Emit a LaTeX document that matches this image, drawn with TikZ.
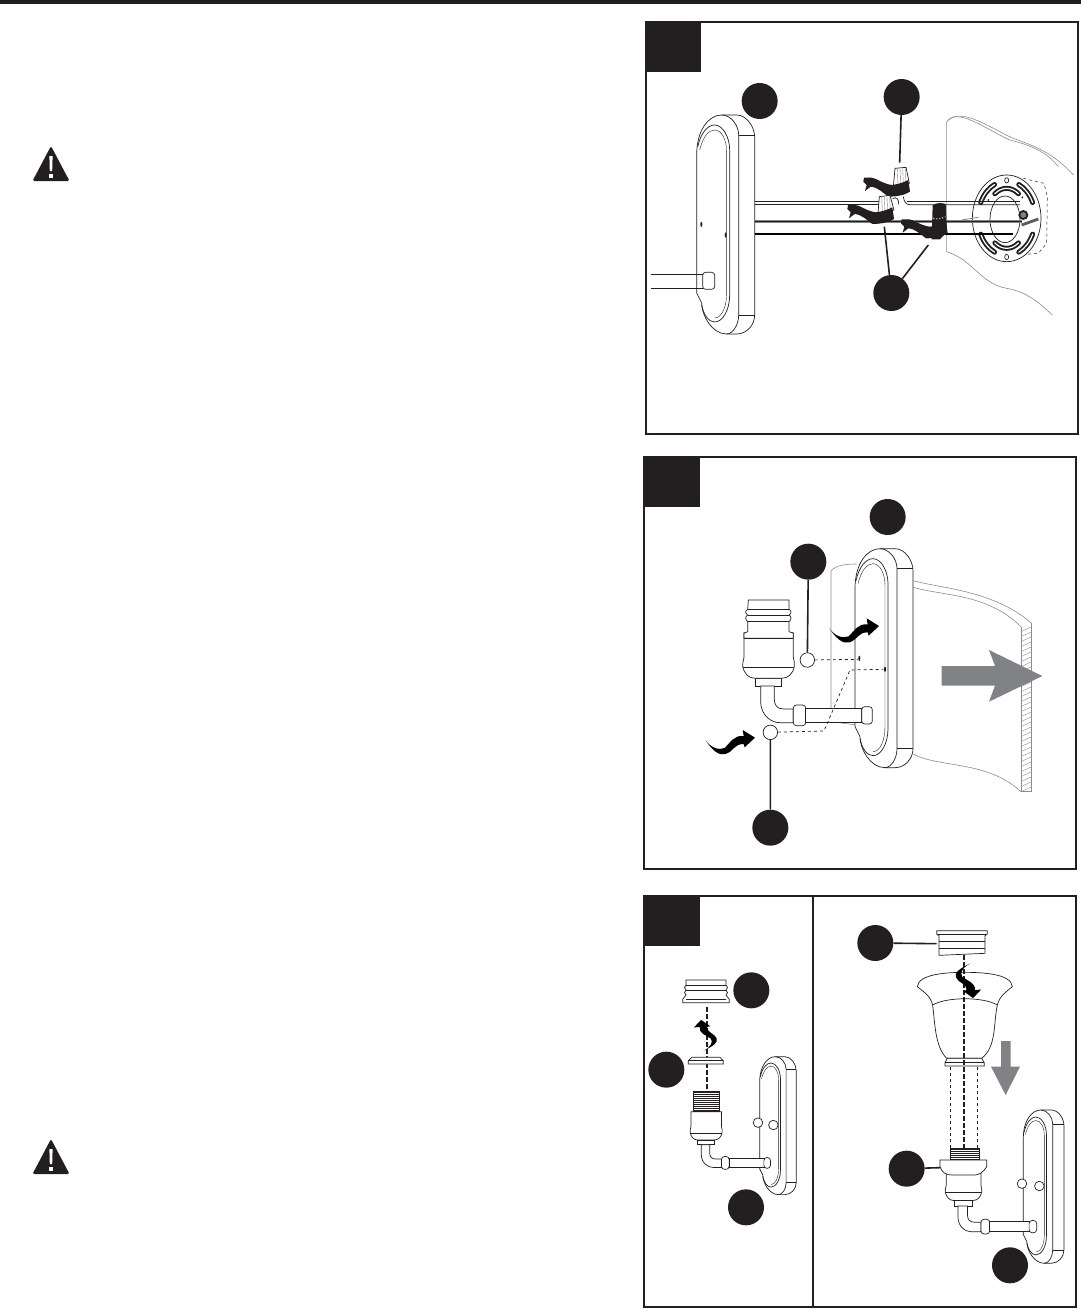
\documentclass[tikz,border=0pt]{standalone}
\definecolor{inkblack}{HTML}{231F20}
\definecolor{arrowgray}{HTML}{808285}
\definecolor{wallgray}{HTML}{8A8C8E}
\tikzset{
  callout/.style={circle, fill=inkblack, minimum size=36pt, inner sep=0pt},
  hole/.style={circle, draw=inkblack, fill=white, line width=0.7pt, minimum size=14.5pt, inner sep=0pt},
  smallhole/.style={hole, minimum size=9.5pt},
  leader/.style={line width=1.6pt, color=inkblack},
  panel/.style={line width=1.5pt, color=inkblack},
  part/.style={line width=0.7pt, color=inkblack, fill=white},
  outline/.style={line width=0.7pt, color=inkblack},
  wallline/.style={line width=0.6pt, color=wallgray},
  guide/.style={dashed, line width=0.7pt, color=inkblack},
  axisline/.style={line width=1.8pt, color=inkblack, dash pattern=on 5pt off 2pt},
  slot/.style={line width=1.9pt, color=inkblack, double=white, double distance=1.2pt, line cap=round},
  threadline/.style={line width=0.9pt, color=inkblack}
}
% wall plate, 58 by 219 wide, origin top left
\newcommand{\backplate}{
  \filldraw [part] (0,40) .. controls (0,15) and (12,0) .. (25,0) -- (40,0)
    .. controls (50,0) and (58,12) .. (58,22) -- (58,200)
    .. controls (58,210) and (50,219) .. (40,219) -- (30,219)
    .. controls (15,219) and (5,200) .. (5,188) -- (0,178) -- cycle;
  \draw [outline] (25,0) .. controls (34,0) and (42,10) .. (42,20) -- (42,200)
    .. controls (42,210) and (36,219) .. (30,219);
  \draw [outline] (42,20) -- (58,20);
  \draw [outline] (42,200) -- (58,200);
  \draw [outline] (1,32) .. controls (4,18) and (11,10) .. (18,10)
    .. controls (26,10) and (33,22) .. (33,35) -- (33,180)
    .. controls (33,195) and (26,207) .. (18,207) .. controls (12,207) and (7,200) .. (5,190);
  \draw [outline, line width=0.4pt] (3,35) .. controls (6,22) and (12,15) .. (18,15)
    .. controls (25,15) and (30,25) .. (30,37) -- (30,178)
    .. controls (30,192) and (25,203) .. (18,203);
}
% socket base and arm, origin at body top centre
\newcommand{\lampbody}{
  \filldraw [part] (-40,137) -- (40,137) -- (40,160) -- (-40,160) -- cycle;
  \filldraw [part] (-23,160) -- (-23,205) .. controls (-23,250) and (10,270) .. (35,270)
    -- (75,270) -- (75,229) -- (45,229) .. controls (25,229) and (18,215) .. (18,200) -- (18,160) -- cycle;
  \filldraw [part, rounded corners=3pt] (75,217) rectangle (112,279);
  \filldraw [part] (112,227) rectangle (280,270);
  \filldraw [part, rounded corners=3pt] (280,222) rectangle (312,274);
  \filldraw [part] (-73,0) -- (75,0) -- (75,72) .. controls (75,85) and (82,92) .. (78,100)
    .. controls (75,122) and (60,137) .. (40,137) -- (-40,137)
    .. controls (-60,137) and (-73,122) .. (-77,100) .. controls (-80,92) and (-73,85) .. (-73,72) -- cycle;
  \draw [outline, line width=1pt] (-76,104) -- (77,104);
}
% black twist of wire with fingers
\newcommand{\wiretwist}{
  \fill [inkblack] (2,-7) -- (25,-7) .. controls (40,-5) and (55,10) .. (85,15)
    .. controls (110,12) and (125,5) .. (135,0) -- (140,35) .. controls (125,45) and (100,50) .. (75,50)
    .. controls (60,40) and (45,22) .. (22,20) -- (5,33) -- (10,15) -- (0,5) -- cycle;
}
% curved black arrow, tail at origin
\newcommand{\swoosh}{
  \fill [black] (0,0) .. controls (20,30) and (40,48) .. (60,42) .. controls (85,35) and (85,12) .. (115,12)
    -- (118,22) -- (149,-7) -- (112,-30) -- (115,-12)
    .. controls (85,-15) and (75,8) .. (58,24) .. controls (40,32) and (15,22) .. (0,0) -- cycle;
}
% warning sign, apex at origin
\newcommand{\warnsign}{
  \fill [inkblack, rounded corners=1.5pt] (0,-1) -- (18.5,34) -- (-18.5,34) -- cycle;
  \fill [white] (-1.6,9) -- (1.6,9) -- (1.2,24) -- (-1.2,24) -- cycle;
  \fill [white] (-1.6,27) rectangle (1.6,31);
}
\begin{document}
\begin{tikzpicture}[x=1pt, y=-1pt]
  \useasboundingbox (0,0) rectangle (1081,1309);
  \fill [white] (0,0) rectangle (1081,1309);
  \fill [inkblack] (0,0) rectangle (1081,4);

  \begin{scope}[shift={(51,147)}] \warnsign \end{scope}
  \begin{scope}[shift={(51,1140)}] \warnsign \end{scope}

  % panel 1
  \draw [panel] (646,22) rectangle (1078,434);
  \fill [inkblack] (646,22) rectangle (701,72);
  \begin{scope}[shift={(640,10)}, scale=1/3]
    \draw [wallline] (1300,495) .. controls (1240,430) and (1190,410) .. (1120,385)
      .. controls (1060,360) and (960,285) .. (920,335) -- (920,725)
      .. controls (1000,750) and (1020,820) .. (1100,835) .. controls (1160,845) and (1200,880) .. (1237,915);
    \draw [wallline] (1255,470) .. controls (1220,425) and (1170,405) .. (1110,390) .. controls (1050,365) and (960,295) .. (925,330);

    % ceiling plate
    \draw [outline, dashed, line width=0.5pt] (1150,505) -- (1212,520) -- (1222,560) -- (1220,700) -- (1195,730) -- (1160,733);
    \filldraw [part] (1100,625) circle [x radius=103, y radius=130];
    \draw [outline] (1095,628) circle [x radius=45, y radius=70];
    \foreach \aa in {25,115,205,295}
      \draw [slot] (1100,625) ++(\aa:86 and 112) arc [start angle=\aa, end angle=\aa+40, x radius=86, y radius=112];
    \foreach \aa in {55,235}
      \draw [slot] (1100,625) ++(\aa:62 and 90) arc [start angle=\aa, end angle=\aa+70, x radius=62, y radius=90];
    \draw [outline] (1100,511) circle [x radius=6, y radius=8];
    \draw [outline] (1100,741) circle [x radius=6, y radius=8];
    \fill [inkblack] (1045,570) circle (3);
    \fill [inkblack] (1147,562) circle (3);

    % wires
    \draw [outline] (344,575) -- (740,575);
    \draw [outline] (344,584) -- (720,584);
    \draw [outline] (758,566) .. controls (770,558) and (778,570) .. (775,584);
    \draw [outline] (790,560) .. controls (792,575) and (798,584) .. (810,584) -- (1140,584);
    \draw [outline] (800,575) -- (1140,575);
    \fill [arrowgray] (344,629) rectangle (1145,640);
    \draw [line width=0.5pt, color=inkblack] (344,634) -- (1145,634);
    \draw [line width=0.8pt, color=arrowgray] (965,630) -- (1015,622);
    \draw [line width=1.8pt, color=black] (344,673) -- (1120,673);
    \draw [line width=1.8pt, color=inkblack, fill=arrowgray] (1150,615) circle (12);
    \draw [line width=2.8pt, color=arrowgray!70!black] (1145,645) -- (1195,627);

    % plate and arm
    \begin{scope}[shift={(170,315)}, scale=3] \backplate \end{scope}
    \fill [inkblack] (184,643) circle [x radius=3, y radius=8];
    \fill [inkblack] (257,675) circle [x radius=3, y radius=8];
    \draw [outline] (33,793) -- (190,793);
    \draw [outline] (33,835) -- (190,835);
    \filldraw [part, rounded corners=3pt] (188,787) rectangle (224,838);

    % wire nuts
    \filldraw [part, draw=inkblack] (765,475) -- (798,472) -- (808,520) -- (760,530) -- cycle;
    \foreach \xa in {772,780,788,796} \draw [color=arrowgray] (\xa,476) -- (\xa+2,525);
    \begin{scope}[shift={(670,510)}] \wiretwist \end{scope}
    \filldraw [part, draw=inkblack] (718,560) -- (750,556) -- (762,600) -- (714,610) -- cycle;
    \foreach \xa in {725,733,741,749} \draw [color=arrowgray] (\xa,560) -- (\xa+2,605);
    \begin{scope}[shift={(622,592)}] \wiretwist \end{scope}
    \fill [inkblack] (878,585) .. controls (890,578) and (905,578) .. (917,582) -- (921,665) -- (900,688) -- (875,688) -- cycle;
    \draw [color=white, dotted, line width=1pt] (880,625) .. controls (895,628) and (905,626) .. (916,620);
    \begin{scope}[shift={(783,635)}] \wiretwist \end{scope}

    \node [callout] (c1a) at (359,273) {};
    \node [callout] (c1b) at (785,261) {};
    \node [callout] (c1c) at (754,849) {};
    \coordinate (nuttop) at (779,458);
    \coordinate (nutleft) at (733,650);
    \coordinate (nutright) at (865,705);
    \draw [leader] (c1b) -- (nuttop);
    \draw [leader] (c1c) -- (nutleft);
    \draw [leader] (c1c) -- (nutright);
  \end{scope}

  % panel 2
  \draw [panel] (644,457) rectangle (1076,869);
  \fill [inkblack] (644,457) rectangle (700,507);
  \begin{scope}[shift={(640,450)}, scale=1/3]
    \foreach \ya in {530,545,...,1020}
      \draw [color=wallgray, line width=0.4pt] (1143,\ya+15) -- (1175,\ya);
    \draw [wallline] (1143,530) -- (1143,1025) -- (1175,1025) -- (1175,520);
    \draw [wallline] (650,342) .. controls (620,342) and (590,345) .. (573,362) -- (573,815) -- (650,825);
    \draw [wallline] (820,392) .. controls (900,415) and (1060,420) .. (1175,520);
    \draw [wallline] (820,412) .. controls (920,440) and (1040,430) .. (1143,530);
    \draw [wallline] (820,912) .. controls (900,955) and (1040,930) .. (1143,1025);

    \begin{scope}[shift={(645,296)}, scale=3] \backplate \end{scope}
    \fill [inkblack] (658,625) circle [x radius=3, y radius=8];
    \fill [inkblack] (735,658) circle [x radius=3, y radius=8];

    % socket
    \begin{scope}[shift={(385,548)}] \lampbody \end{scope}
    \filldraw [part] (325,450) -- (447,450) -- (447,478) .. controls (455,482) and (455,490) .. (447,495)
      .. controls (455,500) and (455,508) .. (447,515) -- (447,545) -- (460,550) -- (460,565) -- (312,565) -- (312,550)
      -- (323,545) -- (323,515) .. controls (315,508) and (315,500) .. (323,495)
      .. controls (315,490) and (315,482) .. (323,478) -- cycle;
    \draw [outline] (323,478) -- (447,478);
    \draw [outline] (323,495) -- (447,495);
    \draw [outline] (323,515) -- (447,515);
    \draw [outline, line width=1.2pt] (312,565) -- (460,565);

    \node [hole] (screwtop) at (502,630) {};
    \node [hole] (screwlow) at (391,847) {};
    \coordinate (holetop) at (655,628);
    \coordinate (holelow) at (730,658);
    \draw [guide] (screwtop) -- (holetop);
    \draw [guide] (screwlow) -- (552,843) -- (630,660) -- (holelow);

    \begin{scope}[shift={(568,535)}] \swoosh \end{scope}
    \begin{scope}[shift={(196,870)}] \swoosh \end{scope}

    \fill [arrowgray] (905,648) -- (1065,648) -- (1047,600) -- (1207,678) -- (1047,755) -- (1065,707) -- (905,707) -- cycle;

    \node [callout] (c2a) at (743,201) {};
    \node [callout] (c2b) at (505,335) {};
    \node [callout] (c2c) at (391,1133) {};
    \draw [leader] (c2b) -- (screwtop);
    \draw [leader] (c2c) -- (screwlow);
  \end{scope}

  % panel 3
  \draw [panel] (644,896) rectangle (1076,1307);
  \fill [inkblack] (644,896) rectangle (700,946);
  \begin{scope}[shift={(640,890)}, scale=1/3]
    \draw [panel] (519,18) -- (519,1248);

    % left part
    \begin{scope}[shift={(359,500)}, scale=1.89] \backplate \end{scope}
    \begin{scope}[shift={(198,665)}, scale=0.62] \lampbody \end{scope}
    \filldraw [part] (160,603) rectangle (238,665);
    \foreach \ya in {607,613,...,661} \draw [threadline] (160,\ya) -- (238,\ya);
    \filldraw [part] (138,270) -- (258,270) -- (258,285) .. controls (264,290) and (264,296) .. (258,300)
      .. controls (264,305) and (264,310) .. (258,315) -- (268,328) -- (268,338) -- (128,338) -- (128,328) -- (138,315)
      .. controls (132,310) and (132,305) .. (138,300) .. controls (132,296) and (132,290) .. (138,285) -- cycle;
    \draw [outline] (138,285) -- (258,285);
    \draw [outline] (138,300) -- (258,300);
    \draw [outline] (138,328) -- (258,328);
    \draw [axisline] (200,352) -- (200,600);
    \filldraw [part] (155,502) -- (240,502) -- (250,512) -- (250,522) -- (145,522) -- (145,512) -- cycle;
    \draw [outline] (145,512) -- (250,512);
    \begin{scope}[shift={(190,482)}, rotate=90, xscale=.62, yscale=.95] \swoosh \end{scope}
    \node [smallhole] (screwa) at (354,698) {};
    \node [smallhole] (screwb) at (400,705) {};

    % right part
    \begin{scope}[shift={(1150,660)}, scale=2.1] \backplate \end{scope}
    \begin{scope}[shift={(970,835)}, scale=0.705] \lampbody \end{scope}
    \draw [guide] (932,530) -- (932,775);
    \draw [guide] (1012,530) -- (1012,775);
    \draw [outline] (832,290) .. controls (835,250) and (930,247) .. (975,247)
      .. controls (1020,247) and (1115,250) .. (1117,290)
      .. controls (1100,305) and (1080,315) .. (1072,345)
      .. controls (1060,400) and (1070,470) .. (1025,505) -- (920,505)
      .. controls (885,470) and (885,400) .. (878,345)
      .. controls (870,315) and (850,305) .. (832,290);
    \draw [outline] (878,345) .. controls (920,320) and (1030,320) .. (1072,345);
    \filldraw [part] (922,505) -- (1025,505) -- (1033,518) -- (1033,528) -- (915,528) -- (915,518) -- cycle;
    \draw [outline] (915,518) -- (1033,518);
    \filldraw [part] (890,122) -- (1042,122) -- (1042,132) -- (1035,137) -- (1035,190) -- (897,196) -- (897,137) -- (890,132) -- cycle;
    \draw [outline] (890,132) -- (1042,132);
    \draw [outline] (897,155) -- (1035,155);
    \draw [outline] (897,175) -- (1035,175);
    \draw [axisline] (972,196) -- (972,775);
    \filldraw [part] (930,775) rectangle (1018,812);
    \foreach \ya in {779,785,...,809} \draw [threadline] (930,\ya) -- (1018,\ya);
    \filldraw [part] (900,810) -- (1040,810) -- (1040,830) .. controls (1030,848) and (1015,855) .. (1005,855)
      -- (935,855) .. controls (920,855) and (905,848) .. (900,830) -- cycle;
    \begin{scope}[shift={(992,220)}, rotate=-90, xscale=.7, yscale=1.05] \swoosh \end{scope}
    \node [smallhole] (screwc) at (1146,881) {};
    \node [smallhole] (screwd) at (1198,888) {};

    \fill [arrowgray] (1083,453) -- (1112,453) -- (1112,530) -- (1140,530) -- (1097,615) -- (1053,530) -- (1083,530) -- cycle;

    \node [callout] (c3a) at (334,301) {};
    \node [callout] (c3b) at (79,539) {};
    \node [callout] (c3c) at (318,952) {};
    \node [callout] (c3d) at (706,159) {};
    \node [callout] (c3e) at (800,836) {};
    \node [callout] (c3f) at (1110,1126) {};
    \coordinate (capleft) at (890,161);
    \coordinate (collarleft) at (900,833);
    \draw [leader] (c3d) -- (capleft);
    \draw [leader] (c3e) -- (collarleft);
  \end{scope}
\end{tikzpicture}
\end{document}
